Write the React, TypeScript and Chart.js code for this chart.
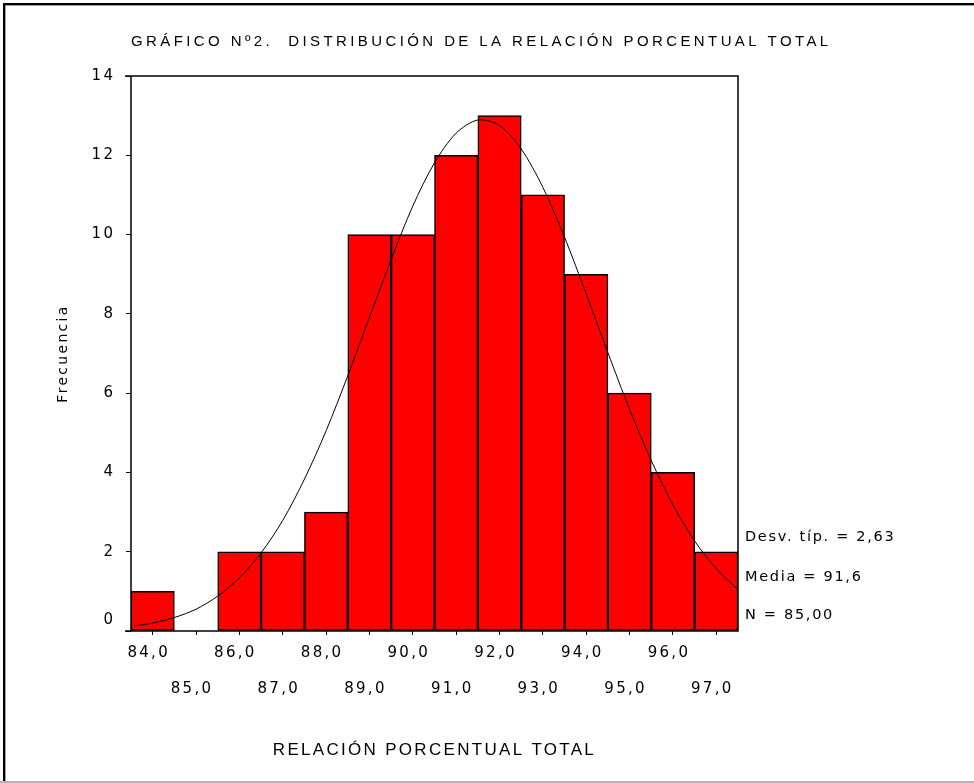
import React, { useEffect, useRef } from 'react';
import { Chart, registerables } from 'chart.js';

Chart.register(...registerables);

const TITLE = 'GRÁFICO Nº2.  DISTRIBUCIÓN DE LA RELACIÓN PORCENTUAL TOTAL';
const X_TITLE = 'RELACIÓN PORCENTUAL TOTAL';
const Y_TITLE = 'Frecuencia';

const BIN_CENTERS = [84, 85, 86, 87, 88, 89, 90, 91, 92, 93, 94, 95, 96, 97];
const FREQUENCIES = [1, 0, 2, 2, 3, 10, 10, 12, 13, 11, 9, 6, 4, 2];

const X_TICK_VALUES = [84, 85, 86, 87, 88, 89, 90, 91, 92, 93, 94, 95, 96, 97];
const X_TICK_LABELS = ['84,0', '85,0', '86,0', '87,0', '88,0', '89,0', '90,0', '91,0', '92,0', '93,0', '94,0', '95,0', '96,0', '97,0'];
const Y_TICK_VALUES = [0, 2, 4, 6, 8, 10, 12, 14];

const CURVE_X = [83.6, 84, 84.5, 85, 85.5, 86, 86.5, 87, 87.5, 88, 88.5, 89, 89.5, 90, 90.5, 91, 91.5, 92, 92.5, 93, 93.5, 94, 94.5, 95, 95.5, 96, 96.5, 97, 97.5];
const CURVE_Y = [0.13, 0.2, 0.34, 0.55, 0.88, 1.34, 1.97, 2.79, 3.83, 5.05, 6.44, 7.91, 9.37, 10.72, 11.81, 12.56, 12.89, 12.75, 12.16, 11.19, 9.93, 8.5, 7.02, 5.59, 4.3, 3.18, 2.27, 1.57, 1.04];

const STATS = ['Desv. típ. = 2,63', 'Media = 91,6', 'N = 85,00'];

const WIDE_FONT = '"DejaVu Sans", Verdana, sans-serif';
const NARROW_FONT = '"Liberation Sans", Arial, sans-serif';

export default function App() {
  const canvasRef = useRef<HTMLCanvasElement | null>(null);

  useEffect(() => {
    document.body.style.margin = '0';
    const canvas = canvasRef.current;
    if (!canvas) return;

    const spacingPlugin = {
      id: 'letterSpacing',
      beforeDraw(chart: any) {
        chart.ctx.letterSpacing = '2.3px';
      },
    };

    const decorPlugin = {
      id: 'decor',
      afterDraw(chart: any) {
        const ctx = chart.ctx as CanvasRenderingContext2D;
        const { left, right, top, bottom } = chart.chartArea;
        ctx.save();
        // plot frame
        ctx.strokeStyle = '#000';
        ctx.lineWidth = 1.5;
        ctx.beginPath();
        ctx.moveTo(left - 6, bottom);
        ctx.lineTo(right, bottom);
        ctx.lineTo(right, top);
        ctx.lineTo(left - 6, top);
        ctx.moveTo(left, top);
        ctx.lineTo(left, bottom);
        ctx.stroke();

        // outer window border
        ctx.fillStyle = '#000';
        ctx.fillRect(3, 3, 971, 2);
        ctx.fillRect(3, 3, 2, 778);
        ctx.fillStyle = '#a0a0a0';
        ctx.fillRect(5, 5, 969, 1);
        ctx.fillRect(5, 5, 1, 776);
        ctx.fillStyle = '#b4b4b4';
        ctx.fillRect(0, 781, 974, 2);

        // title
        ctx.fillStyle = '#000';
        ctx.textBaseline = 'middle';
        ctx.textAlign = 'left';
        (ctx as any).letterSpacing = '3.4px';
        ctx.font = `15px ${NARROW_FONT}`;
        ctx.fillText(TITLE, 131, 42);

        // statistics
        (ctx as any).letterSpacing = '1.7px';
        ctx.font = `14.5px ${WIDE_FONT}`;
        const statY = [537, 577, 615];
        STATS.forEach((s, i) => ctx.fillText(s, 745, statY[i]));
        ctx.restore();
      },
    };

    const chart = new Chart(canvas, {
      type: 'bar',
      data: {
        datasets: [
          {
            type: 'line',
            label: 'Normal',
            data: CURVE_X.map((x, i) => ({ x, y: CURVE_Y[i] })),
            borderColor: '#000',
            borderWidth: 1,
            pointRadius: 0,
            tension: 0.3,
            fill: false,
            order: 0,
          } as any,
          {
            type: 'bar',
            label: 'Frecuencia',
            data: BIN_CENTERS.map((x, i) => ({ x, y: FREQUENCIES[i] })),
            backgroundColor: '#ff0000',
            borderColor: '#000',
            borderWidth: 1.5,
            borderSkipped: false,
            barPercentage: 1,
            categoryPercentage: 1,
            order: 1,
          } as any,
        ],
      },
      options: {
        responsive: false,
        animation: false,
        layout: { padding: { left: 0, top: 76, right: 236, bottom: 0 } },
        plugins: {
          legend: { display: false },
          tooltip: { enabled: false },
          title: { display: false },
        },
        scales: {
          x: {
            type: 'linear',
            min: 83.5,
            max: 97.5,
            offset: false,
            afterFit: (s: any) => {
              s.height = 152;
            },
            afterBuildTicks: (s: any) => {
              s.ticks = X_TICK_VALUES.map((v) => ({ value: v }));
            },
            grid: {
              display: true,
              drawOnChartArea: false,
              drawTicks: true,
              tickLength: 4,
              color: '#000',
              lineWidth: 1,
              offset: false,
            },
            border: { display: false },
            ticks: {
              autoSkip: false,
              maxRotation: 0,
              minRotation: 0,
              padding: 0,
              labelOffset: -4,
              color: '#000',
              font: { family: WIDE_FONT, size: 15, lineHeight: '36px' } as any,
              callback: (_v: any, i: number) => (i % 2 === 0 ? [X_TICK_LABELS[i], ''] : ['', X_TICK_LABELS[i]]),
            },
            title: {
              display: true,
              text: X_TITLE,
              color: '#000',
              font: { family: NARROW_FONT, size: 17, lineHeight: 1.2 },
              padding: { top: 0, bottom: 22.8 },
            },
          },
          y: {
            type: 'linear',
            min: 0,
            max: 14,
            afterFit: (s: any) => {
              s.width = 131;
            },
            afterBuildTicks: (s: any) => {
              s.ticks = Y_TICK_VALUES.map((v) => ({ value: v }));
            },
            grid: {
              display: true,
              drawOnChartArea: false,
              drawTicks: true,
              tickLength: 5,
              color: '#000',
              lineWidth: 1,
            },
            border: { display: false },
            ticks: {
              padding: 10.7,
              color: '#000',
              font: { family: WIDE_FONT, size: 15, lineHeight: '22px' } as any,
              callback: (v: any) => (v === 0 ? ['0', ''] : String(v)),
            },
            title: {
              display: true,
              text: Y_TITLE,
              color: '#000',
              font: { family: WIDE_FONT, size: 14, lineHeight: 1.2 },
              padding: { top: 54.6, bottom: 0 },
            },
          },
        },
      },
      plugins: [spacingPlugin, decorPlugin],
    });

    return () => chart.destroy();
  }, []);

  return (
    <div style={{ width: 974, height: 783, position: 'relative', background: '#fff' }}>
      <canvas ref={canvasRef} width={974} height={783} style={{ display: 'block' }} />
    </div>
  );
}
